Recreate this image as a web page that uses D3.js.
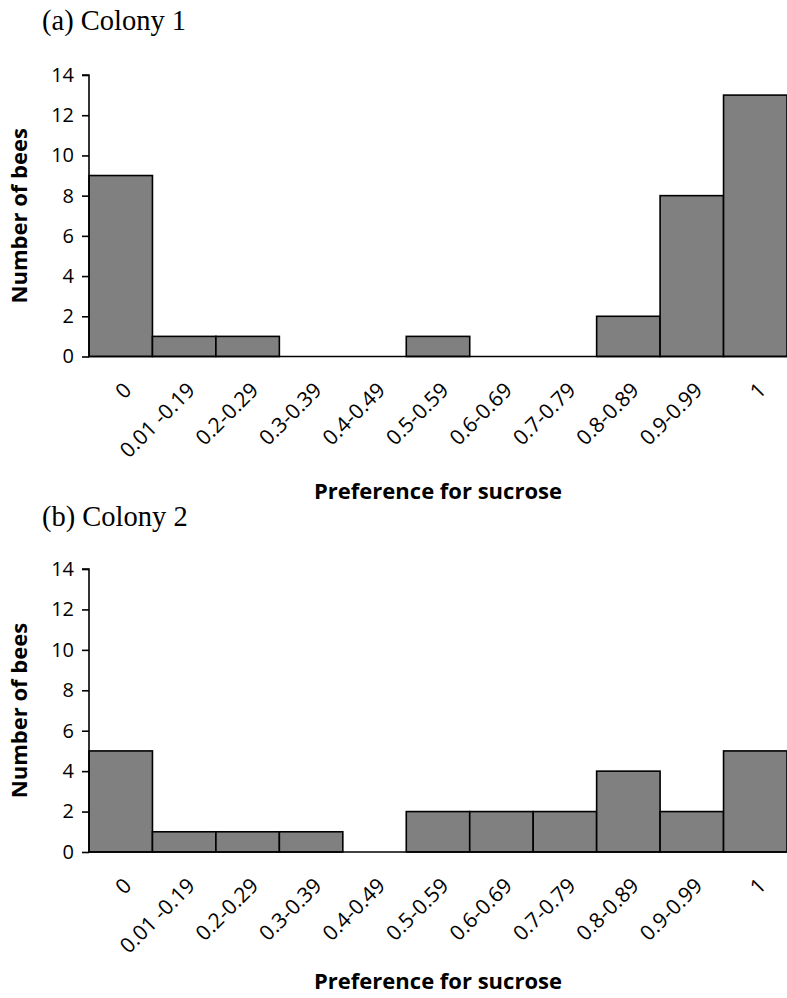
<!DOCTYPE html>
<html><head><meta charset="utf-8">
<script src="https://cdn.jsdelivr.net/npm/d3@7"></script>
<style>body{margin:0;background:#fff}</style>
</head><body>
<script>
const categories = ["0","0.01 -0.19","0.2-0.29","0.3-0.39","0.4-0.49","0.5-0.59","0.6-0.69","0.7-0.79","0.8-0.89","0.9-0.99","1"];
const colony1 = [9,1,1,0,0,1,0,0,2,8,13];
const colony2 = [5,1,1,1,0,2,2,2,4,2,5];
const yTicks = [0,2,4,6,8,10,12,14];
const panels = [
  {title:"(a) Colony 1", values:colony1, top:75, bottom:356.5, titleY:30, xTitleY:499},
  {title:"(b) Colony 2", values:colony2, top:569, bottom:852, titleY:526, xTitleY:989}
];
const W=787,H=998;
const svg=d3.select("body").append("svg").attr("width",W).attr("height",H);
const x=d3.scaleBand().domain(categories).range([89,787]).padding(0);
const sans="'Open Sans', sans-serif";
panels.forEach(p=>{
  const g=svg.append("g");
  const y=d3.scaleLinear().domain([0,14]).range([p.bottom,p.top]);
  g.append("text").attr("x",42).attr("y",p.titleY).attr("font-family","'Liberation Serif','Times New Roman',serif")
    .attr("font-size",28.5).text(p.title);
  g.selectAll("rect").data(p.values).join("rect")
    .attr("x",(d,i)=>x(categories[i])).attr("width",x.bandwidth())
    .attr("y",d=>y(d)).attr("height",d=>p.bottom-y(d))
    .attr("fill","#808080").attr("stroke","#000").attr("stroke-width",1.6);
  const ya=g.append("g").attr("transform","translate(89,0)")
    .call(d3.axisLeft(y).tickValues(yTicks).tickSize(7).tickPadding(8));
  ya.select(".domain").attr("stroke-width",1.6).attr("d",`M-7,${p.top}H0V${p.bottom}`);
  ya.selectAll(".tick line").attr("stroke-width",1.6);
  ya.selectAll("text").attr("font-family",sans).attr("font-size",20).attr("fill","#000");
  g.append("line").attr("x1",89).attr("x2",787).attr("y1",p.bottom).attr("y2",p.bottom).attr("stroke","#000").attr("stroke-width",1.6);
  g.selectAll("text.xl").data(categories).join("text").attr("class","xl")
    .attr("text-anchor","end").attr("font-family",sans).attr("font-size",21)
    .attr("transform",d=>`translate(${x(d)+x.bandwidth()/2+12},${p.bottom+35}) rotate(-45)`)
    .text(d=>d);
  g.append("text").attr("font-family",sans).attr("font-weight","bold").attr("font-size",22)
    .attr("text-anchor","middle").attr("x",438).attr("y",p.xTitleY).text("Preference for sucrose");
  g.append("text").attr("font-family",sans).attr("font-weight","bold").attr("font-size",22)
    .attr("text-anchor","middle").attr("transform",`translate(27,${(p.top+p.bottom)/2}) rotate(-90)`).text("Number of bees");
});
</script>
</body></html>
